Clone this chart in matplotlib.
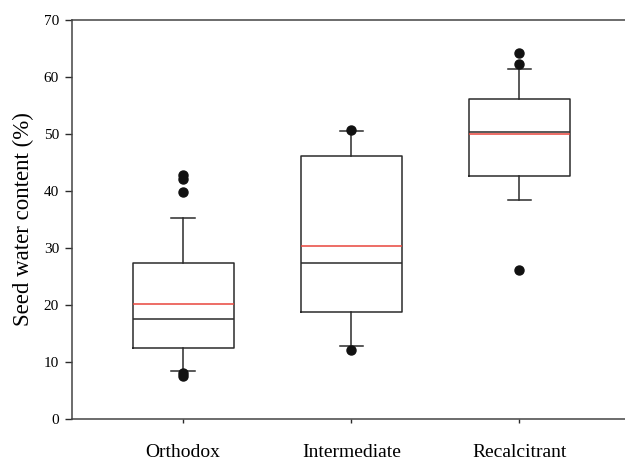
import matplotlib
matplotlib.use("Agg")
import matplotlib.pyplot as plt

# values
categories = ["Orthodox", "Intermediate", "Recalcitrant"]
q1 = [12.4, 18.8, 42.6]
q3 = [27.4, 46.1, 56.1]
medians = [17.5, 27.4, 50.3]
means = [20.2, 30.4, 49.9]
whisker_low = [8.4, 12.9, 38.4]
whisker_high = [35.2, 50.5, 61.4]
outliers = [[42.8, 42.1, 39.8, 8.1, 7.6],
            [50.6, 12.2],
            [64.1, 62.2, 26.2]]


def main():
    plt.rcParams['font.family'] = ['Liberation Serif', 'DejaVu Serif']

    stats = []
    for i, name in enumerate(categories):
        stats.append({
            'label': name,
            'q1': q1[i], 'q3': q3[i], 'med': medians[i], 'mean': means[i],
            'whislo': whisker_low[i], 'whishi': whisker_high[i],
            'fliers': outliers[i],
        })

    fig = plt.figure(figsize=(6.25, 4.63), dpi=100)
    ax = fig.add_axes([71.5 / 625, 1 - 419.3 / 463, 1 - 71.5 / 625, (419.3 - 19.5) / 463])

    line_col = '#2b2b2b'
    ax.bxp(stats, positions=[1, 2, 3], widths=0.6, showmeans=True, meanline=True,
           boxprops=dict(color=line_col, linewidth=1.1),
           whiskerprops=dict(color=line_col, linewidth=1.1),
           capprops=dict(color=line_col, linewidth=1.1),
           medianprops=dict(color=line_col, linewidth=1.1),
           meanprops=dict(color='#e8453c', linestyle='-', linewidth=1.1),
           flierprops=dict(marker='o', markerfacecolor='#111111', markeredgecolor='#111111',
                           markersize=6.5),
           capwidths=0.14)

    ax.set_xlim(0.336, 3.628)
    ax.set_ylim(0, 70)
    ax.set_yticks(range(0, 71, 10))
    ax.set_xticks([1, 2, 3])
    ax.set_xticklabels(categories, fontsize=14)
    ax.tick_params(axis='y', labelsize=11, length=5, width=1, color=line_col, pad=4)
    ax.tick_params(axis='x', length=3, width=1, color=line_col, pad=15)
    ax.spines['right'].set_visible(False)
    for s in ['left', 'top', 'bottom']:
        ax.spines[s].set_color('#444444')
        ax.spines[s].set_linewidth(1.1)
    ax.set_ylabel("Seed water content (%)", fontsize=16.5, labelpad=7)

    fig.savefig("out.png", dpi=100)


if __name__ == "__main__":
    main()
